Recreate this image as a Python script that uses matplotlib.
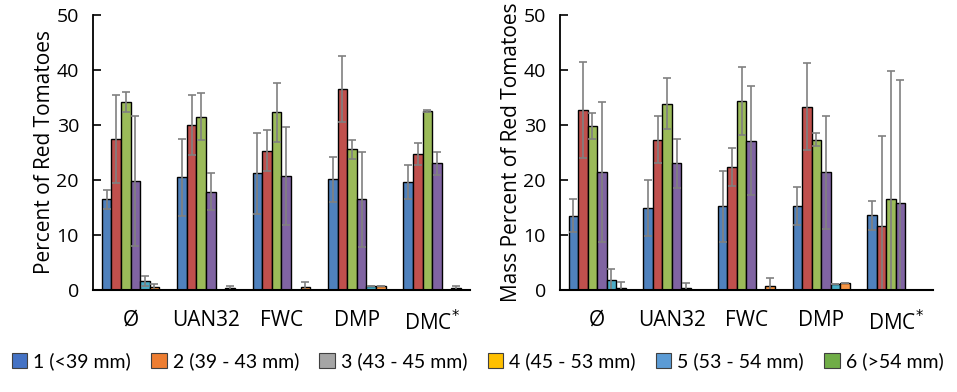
import matplotlib
matplotlib.use('Agg')
import matplotlib.pyplot as plt
import numpy as np
from matplotlib.patches import Patch

## data
groups = ['Ø', 'UAN32', 'FWC', 'DMP', 'DMC$^{*}$']
legend_labels = ['1 (<39 mm)', '2 (39 - 43 mm)', '3 (43 - 45 mm)',
                 '4 (45 - 53 mm)', '5 (53 - 54 mm)', '6 (>54 mm)']

# percent of red tomatoes (count), series 1..6 per group
pct_1 = [16.5, 20.5, 21.2, 20.1, 19.6]
pct_2 = [27.4, 30.0, 25.3, 36.5, 24.7]
pct_3 = [34.1, 31.5, 32.3, 25.6, 32.5]
pct_4 = [19.9, 17.9, 20.8, 16.5, 23.0]
pct_5 = [1.7, 0.0, 0.0, 0.7, 0.0]
pct_6 = [0.5, 0.3, 0.5, 0.7, 0.4]
pct_err_1 = [1.7, 7.0, 7.4, 4.1, 3.1]
pct_err_2 = [8.0, 5.5, 3.7, 6.0, 2.0]
pct_err_3 = [1.8, 4.3, 5.4, 1.7, 0.2]
pct_err_4 = [11.8, 3.3, 8.9, 8.6, 2.0]
pct_err_5 = [0.9, 0.0, 0.0, 0.0, 0.0]
pct_err_6 = [0.6, 0.4, 1.0, 0.0, 0.4]

# mass percent of red tomatoes
mass_1 = [13.5, 14.9, 15.2, 15.3, 13.6]
mass_2 = [32.7, 27.3, 22.4, 33.3, 11.6]
mass_3 = [29.8, 33.9, 34.4, 27.3, 16.5]
mass_4 = [21.5, 23.0, 27.1, 21.4, 15.9]
mass_5 = [1.8, 0.4, 0.0, 1.1, 0.1]
mass_6 = [0.4, 0.0, 0.7, 1.2, 0.0]
mass_err_1 = [3.0, 5.1, 6.5, 3.5, 2.6]
mass_err_2 = [8.7, 4.3, 3.5, 7.9, 16.4]
mass_err_3 = [2.3, 4.6, 6.2, 1.2, 23.3]
mass_err_4 = [12.7, 4.4, 9.9, 10.3, 22.3]
mass_err_5 = [2.0, 0.8, 0.0, 0.0, 0.0]
mass_err_6 = [1.1, 0.0, 1.5, 0.0, 0.0]

bar_colors = ['#4f81bd', '#c0504d', '#9bbb59', '#8064a2', '#4bacc6', '#f79646']
legend_colors = ['#4472c4', '#ed7d31', '#a5a5a5', '#ffc000', '#5b9bd5', '#70ad47']

plt.rcParams['font.family'] = ['Open Sans', 'DejaVu Sans']

fig = plt.figure(figsize=(9.57, 3.92), dpi=100)
ax1 = fig.add_axes([0.097, 0.260, 0.394, 0.702])
ax2 = fig.add_axes([0.585, 0.260, 0.390, 0.702])

def draw(ax, vals, errs, ylabel):
    x = np.arange(len(groups))
    w = 0.127
    for i in range(6):
        ax.bar(x + (i - 2.5) * w, vals[i], w, color=bar_colors[i],
               edgecolor='black', linewidth=1.0, yerr=errs[i],
               error_kw=dict(ecolor='#808080', elinewidth=1.2, capsize=3, capthick=1.2))
    ax.set_xlim(-0.5, 4.5)
    ax.set_ylim(0, 50)
    ax.set_yticks([0, 10, 20, 30, 40, 50])
    ax.set_xticks(x)
    ax.set_xticklabels(groups, fontsize=15)
    ax.tick_params(axis='x', length=0, pad=14)
    ax.tick_params(axis='y', direction='in', length=6, width=1.2, labelsize=14, pad=10)
    ax.spines['top'].set_visible(False)
    ax.spines['right'].set_visible(False)
    ax.spines['left'].set_linewidth(1.3)
    ax.spines['bottom'].set_linewidth(1.5)
    ax.set_ylabel(ylabel, fontsize=15, labelpad=1)

draw(ax1, [pct_1, pct_2, pct_3, pct_4, pct_5, pct_6],
     [pct_err_1, pct_err_2, pct_err_3, pct_err_4, pct_err_5, pct_err_6],
     'Percent of Red Tomatoes')
draw(ax2, [mass_1, mass_2, mass_3, mass_4, mass_5, mass_6],
     [mass_err_1, mass_err_2, mass_err_3, mass_err_4, mass_err_5, mass_err_6],
     'Mass Percent of Red Tomatoes')

handles = [Patch(facecolor=c, edgecolor='#404040', linewidth=0.8) for c in legend_colors]
fig.legend(handles, legend_labels, loc='lower left', bbox_to_anchor=(0.004, 0.035, 0.99, 0.08),
           mode='expand', ncol=6, frameon=False, handlelength=0.8, handleheight=0.8,
           handletextpad=0.3, borderaxespad=0,
           prop={'family': ['Lato', 'DejaVu Sans'], 'size': 14})

fig.savefig('out.png', dpi=100)
